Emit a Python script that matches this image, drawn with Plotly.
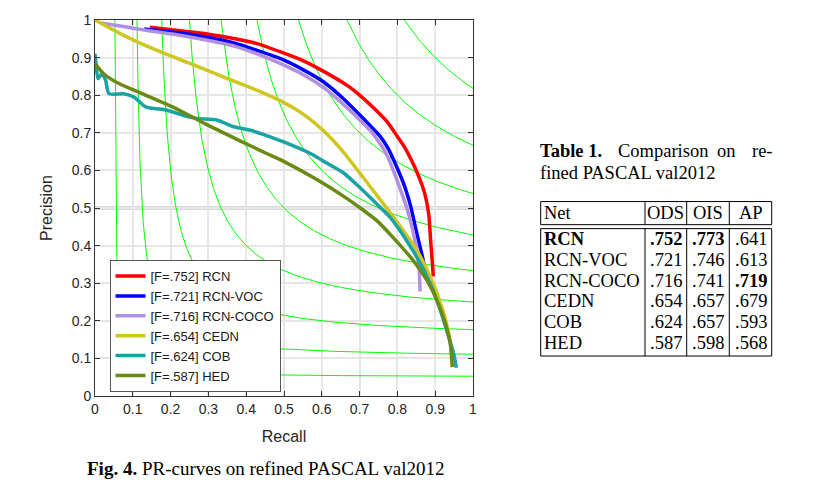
import numpy as np
import plotly.graph_objects as go

# ---------------- data ----------------
SERIES = ["[F=.752] RCN", "[F=.721] RCN-VOC", "[F=.716] RCN-COCO",
          "[F=.654] CEDN", "[F=.624] COB", "[F=.587] HED"]
COLORS = ["#ff0000", "#0000ff", "#b18fe3", "#cfc61f", "#1aa3a3", "#6a8a14"]

RCN_R = [0.145, 0.22, 0.297, 0.37, 0.429, 0.491, 0.55, 0.60, 0.667, 0.70, 0.738, 0.773,
         0.80, 0.82, 0.843, 0.86, 0.872, 0.883, 0.888, 0.892, 0.895]
RCN_P = [0.981, 0.972, 0.963, 0.950, 0.937, 0.915, 0.892, 0.866, 0.826, 0.800, 0.765, 0.729,
         0.690, 0.660, 0.615, 0.575, 0.540, 0.483, 0.412, 0.36, 0.318]

VOC_R = [0.13, 0.22, 0.297, 0.37, 0.429, 0.491, 0.55, 0.605, 0.658, 0.70, 0.729, 0.755,
         0.775, 0.80, 0.82, 0.835, 0.852, 0.864, 0.874, 0.877]
VOC_P = [0.976, 0.966, 0.954, 0.938, 0.919, 0.897, 0.868, 0.835, 0.790, 0.748, 0.718, 0.690,
         0.659, 0.605, 0.555, 0.505, 0.43, 0.38, 0.335, 0.325]

COCO_R = [0.015, 0.08, 0.138, 0.22, 0.297, 0.37, 0.429, 0.491, 0.55, 0.605, 0.658, 0.70,
          0.729, 0.755, 0.775, 0.795, 0.813, 0.825, 0.843, 0.857, 0.86]
COCO_P = [0.992, 0.982, 0.972, 0.960, 0.946, 0.930, 0.910, 0.884, 0.855, 0.820, 0.775, 0.735,
          0.705, 0.670, 0.635, 0.585, 0.535, 0.50, 0.43, 0.341, 0.278]

CEDN_R = [0.0, 0.076, 0.164, 0.253, 0.341, 0.429, 0.491, 0.54, 0.58, 0.62, 0.66, 0.711,
          0.76, 0.805, 0.85, 0.888, 0.918, 0.936, 0.945, 0.948]
CEDN_P = [1.0, 0.959, 0.919, 0.884, 0.848, 0.813, 0.785, 0.757, 0.727, 0.690, 0.645, 0.579,
          0.515, 0.455, 0.39, 0.315, 0.235, 0.165, 0.103, 0.077]

COB_R = [0.0, 0.003, 0.008, 0.019, 0.028, 0.037, 0.076, 0.103, 0.134, 0.191, 0.244, 0.27,
         0.323, 0.367, 0.411, 0.45, 0.499, 0.570, 0.614, 0.658, 0.702, 0.747, 0.782, 0.808,
         0.852, 0.888, 0.914, 0.936, 0.949, 0.956]
COB_P = [0.91, 0.879, 0.844, 0.857, 0.840, 0.804, 0.804, 0.795, 0.769, 0.760, 0.743, 0.738,
         0.734, 0.716, 0.707, 0.694, 0.676, 0.645, 0.619, 0.593, 0.553, 0.509, 0.474, 0.438,
         0.368, 0.297, 0.227, 0.156, 0.112, 0.075]

HED_R = [0.0, 0.023, 0.059, 0.12, 0.209, 0.297, 0.385, 0.45, 0.499, 0.588, 0.658, 0.702,
         0.747, 0.79, 0.843, 0.879, 0.905, 0.927, 0.940, 0.945]
HED_P = [0.884, 0.857, 0.833, 0.806, 0.767, 0.721, 0.678, 0.647, 0.624, 0.575, 0.531, 0.50,
         0.465, 0.42, 0.359, 0.306, 0.253, 0.192, 0.139, 0.077]

ISO_F = [0.1, 0.2, 0.3, 0.4, 0.5, 0.6, 0.7, 0.8, 0.9]

TICKS = [0, 0.1, 0.2, 0.3, 0.4, 0.5, 0.6, 0.7, 0.8, 0.9, 1]
TICK_TEXT = ["0", "0.1", "0.2", "0.3", "0.4", "0.5", "0.6", "0.7", "0.8", "0.9", "1"]

TABLE_HEAD = ["Net", "ODS", "OIS", "AP"]
NETS = ["RCN", "RCN-VOC", "RCN-COCO", "CEDN", "COB", "HED"]
ODS = [".752", ".721", ".716", ".654", ".624", ".587"]
OIS = [".773", ".746", ".741", ".657", ".657", ".598"]
AP = [".641", ".613", ".719", ".679", ".593", ".568"]

# ---------------- layout geometry (pixels) ----------------
W, H = 816, 481
PL, PRt, PT, PB = 95, 473, 17, 396


def fx(px):
    return (px - PL) / (PRt - PL)


def fy(py):
    return (PB - py) / (PB - PT)


SANS = "Liberation Sans, Arial, sans-serif"
SERIF = "Liberation Serif, Times New Roman, serif"

fig = go.Figure()

# iso-F contours
for f in ISO_F:
    r0 = f / (2 - f)
    t = np.linspace(0, 1, 300)
    r = r0 + (1 - r0) * t ** 2
    p = f * r / (2 * r - f)
    fig.add_trace(go.Scatter(x=r, y=p, mode="lines", line=dict(color="#00ff00", width=1),
                             showlegend=False, hoverinfo="skip"))

# P = 0.5 reference line
fig.add_shape(type="line", xref="x", yref="y", x0=0, x1=1, y0=0.5, y1=0.5,
              line=dict(color="#b4b4b4", width=3), layer="below")

DATA = [(RCN_R, RCN_P), (VOC_R, VOC_P), (COCO_R, COCO_P),
        (CEDN_R, CEDN_P), (COB_R, COB_P), (HED_R, HED_P)]
for name, col, (rr, pp) in zip(SERIES, COLORS, DATA):
    fig.add_trace(go.Scatter(x=rr, y=pp, mode="lines", name=name,
                             line=dict(color=col, width=3.5, shape="spline", smoothing=0.6)))

axis_common = dict(range=[0, 1], tickvals=TICKS, ticktext=TICK_TEXT, ticks="inside", ticklen=5,
                   tickcolor="#333", showline=True, linecolor="#333", linewidth=1, mirror="ticks",
                   showgrid=True, gridcolor="#e6e6e6", gridwidth=1.5, zeroline=False,
                   tickfont=dict(family=SANS, size=14, color="#262626"))

fig.update_layout(
    width=W, height=H, autosize=False,
    margin=dict(l=PL, r=W - PRt, t=PT, b=H - PB, pad=0),
    paper_bgcolor="white", plot_bgcolor="white",
    xaxis=dict(**axis_common, title=dict(text="Recall", font=dict(family=SANS, size=16, color="#262626"))),
    yaxis=dict(**axis_common, title=dict(text="Precision", font=dict(family=SANS, size=16, color="#262626"))),
    legend=dict(x=fx(109.5), y=fy(325.5), xanchor="left", yanchor="middle",
                bordercolor="#555", borderwidth=1, bgcolor="white", entrywidth=140,
                font=dict(family=SANS, size=13, color="#1a1a1a"), tracegroupgap=0),
)

# ---------------- table + captions ----------------
ann = []


def text(x, y, s, anchor="left", size=18.5, bold=False):
    if bold:
        s = "<b>" + s + "</b>"
    ann.append(dict(x=fx(x), y=fy(y), xref="paper", yref="paper", text=s, showarrow=False,
                    xanchor=anchor, yanchor="middle", font=dict(family=SERIF, size=size, color="black")))


# table title (justified first line)
text(538, 149, "Table 1.", bold=True)
text(616, 149, "Comparison")
text(715, 149, "on")
text(775, 149, "re-", anchor="right")
text(538, 171, "fined PASCAL val2012")

# figure caption
text(85, 469, "<b>Fig. 4.</b> PR-curves on refined PASCAL val2012", size=19)

COLS = [540.7, 645, 686.7, 729.3, 771.7]
HEAD_T, HEAD_B, BODY_T, BODY_B = 200, 223.3, 227.3, 355.7
shapes = []
for (t0, b0) in [(HEAD_T, HEAD_B), (BODY_T, BODY_B)]:
    shapes.append(dict(type="rect", xref="paper", yref="paper", x0=fx(COLS[0]), x1=fx(COLS[-1]),
                       y0=fy(b0), y1=fy(t0), line=dict(color="black", width=1)))
    for cx in COLS[1:-1]:
        shapes.append(dict(type="line", xref="paper", yref="paper", x0=fx(cx), x1=fx(cx),
                           y0=fy(b0), y1=fy(t0), line=dict(color="black", width=1)))

centers = [(COLS[i] + COLS[i + 1]) / 2 for i in range(4)]
hy = (HEAD_T + HEAD_B) / 2
text(COLS[0] + 1, hy, TABLE_HEAD[0])
for j in range(1, 4):
    text(centers[j], hy, TABLE_HEAD[j], anchor="center")

cols_vals = [ODS, OIS, AP]
best = [max(c, key=float) for c in cols_vals]
for i, net in enumerate(NETS):
    y = 237.7 + 21 * i
    row_best = ODS[i] == best[0]
    text(COLS[0] + 1, y, net, bold=row_best)
    for j, c in enumerate(cols_vals):
        text(centers[j + 1], y, c[i], anchor="center", bold=(c[i] == best[j]))

fig.update_layout(annotations=ann, shapes=list(fig.layout.shapes) + shapes)

fig.write_html("out.html", config={"displayModeBar": False},
               post_script="document.body.style.margin='0px';document.body.style.overflow='hidden';")
